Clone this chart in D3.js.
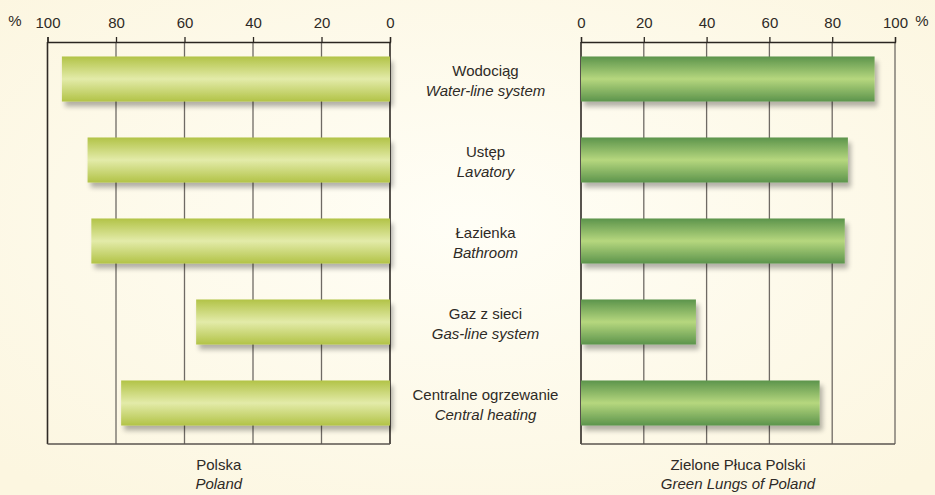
<!DOCTYPE html>
<html><head><meta charset="utf-8">
<script src="https://cdn.jsdelivr.net/npm/d3@7"></script>
<style>body{margin:0;background:#fdf8e6;}svg{display:block;font-family:"Liberation Sans",Arial,sans-serif;}</style>
</head><body>
<svg id="c" width="935" height="495"></svg>
<script>
const categoriesPl = ["Wodociąg","Ustęp","Łazienka","Gaz z sieci","Centralne ogrzewanie"];
const categoriesEn = ["Water-line system","Lavatory","Bathroom","Gas-line system","Central heating"];
const polandValues = [95.8, 88.3, 87.2, 56.6, 78.5];
const greenLungsValues = [93.5, 85.0, 84.0, 36.6, 76.0];
const tickValues = [0, 20, 40, 60, 80, 100];
const panelTitles = [["Polska","Poland"],["Zielone Płuca Polski","Green Lungs of Poland"]];

const FS = 15;
const TXT = "#2e2a26";
const svg = d3.select("#c");
const defs = svg.append("defs");

const bg = defs.append("radialGradient").attr("id","bg").attr("cx","50%").attr("cy","45%").attr("r","70%");
bg.append("stop").attr("offset","0%").attr("stop-color","#fffef6");
bg.append("stop").attr("offset","100%").attr("stop-color","#fcf6e0");
svg.append("rect").attr("width",935).attr("height",495).attr("fill","url(#bg)");

function grad(id, edge, mid){
  const g = defs.append("linearGradient").attr("id",id).attr("x1",0).attr("y1",0).attr("x2",0).attr("y2",1);
  g.append("stop").attr("offset","0%").attr("stop-color",edge);
  g.append("stop").attr("offset","50%").attr("stop-color",mid);
  g.append("stop").attr("offset","100%").attr("stop-color",edge);
}
grad("gl","#b2c347","#e3eba9");
grad("gr","#5c944c","#b6d77e");

const f = defs.append("filter").attr("id","sh").attr("x","-10%").attr("y","-20%").attr("width","130%").attr("height","160%");
f.append("feGaussianBlur").attr("in","SourceAlpha").attr("stdDeviation",2.5).attr("result","b");
f.append("feOffset").attr("in","b").attr("dx",3).attr("dy",5).attr("result","o");
f.append("feComponentTransfer").attr("in","o").attr("result","o2").append("feFuncA").attr("type","linear").attr("slope",0.3);
const m = f.append("feMerge");
m.append("feMergeNode").attr("in","o2");
m.append("feMergeNode").attr("in","SourceGraphic");

const plotTop = 42, plotBottom = 444;
const y = d3.scaleBand().domain(categoriesPl).range([38.5, 443.5]).paddingInner(0.444).paddingOuter(0.222);
const xL = d3.scaleLinear().domain([0,100]).range([390, 47.5]);
const xR = d3.scaleLinear().domain([0,100]).range([581, 895]);

function panel(x, values, fill, title, pctX, isRight){
  const g = svg.append("g");
  g.selectAll("line.grid").data(tickValues).join("line")
    .attr("x1",d=>x(d)).attr("x2",d=>x(d)).attr("y1",plotTop).attr("y2",plotBottom)
    .attr("stroke",d=> (d===0 || (d===100 && !isRight)) ? "#2f2a25" : "#6f6a64")
    .attr("stroke-width",d=> (d===0 || (d===100 && !isRight)) ? 1.6 : 1.3);
  const ax = d3.axisTop(x).tickValues(tickValues).tickSize(5).tickPadding(9);
  const a = g.append("g").attr("transform",`translate(0,${plotTop})`).call(ax);
  a.attr("font-size",FS).attr("font-family","Liberation Sans, Arial, sans-serif");
  a.select(".domain").attr("stroke","#2a2520").attr("stroke-width",1.3);
  a.selectAll(".tick line").attr("stroke","#2a2520").attr("stroke-width",1.3);
  a.selectAll(".tick text").attr("fill",TXT);
  g.append("line").attr("x1",x(0)).attr("x2",x(100)).attr("y1",plotBottom).attr("y2",plotBottom).attr("stroke","#5a554f").attr("stroke-width",1.5);
  g.selectAll("rect.bar").data(values).join("rect")
    .attr("x",d=>Math.min(x(0),x(d))).attr("width",d=>Math.abs(x(d)-x(0)))
    .attr("y",(d,i)=>y(categoriesPl[i])).attr("height",y.bandwidth())
    .attr("fill",`url(#${fill})`).attr("filter","url(#sh)");
  svg.append("text").attr("x",pctX).attr("y",26).attr("text-anchor","middle").attr("font-size",FS).attr("fill",TXT).text("%");
  const cx = (x(0)+x(100))/2;
  svg.append("text").attr("x",cx).attr("y",470).attr("text-anchor","middle").attr("font-size",FS).attr("fill",TXT).text(title[0]);
  svg.append("text").attr("x",cx).attr("y",489).attr("text-anchor","middle").attr("font-size",FS).attr("font-style","italic").attr("fill",TXT).text(title[1]);
}
panel(xL, polandValues, "gl", panelTitles[0], 15, false);
panel(xR, greenLungsValues, "gr", panelTitles[1], 922, true);

const lab = svg.append("g");
categoriesPl.forEach((c,i)=>{
  const cy = y(c) + y.bandwidth()/2;
  lab.append("text").attr("x",485.5).attr("y",cy-3).attr("text-anchor","middle").attr("font-size",FS).attr("fill",TXT).text(c);
  lab.append("text").attr("x",485.5).attr("y",cy+17).attr("text-anchor","middle").attr("font-size",FS).attr("font-style","italic").attr("fill",TXT).text(categoriesEn[i]);
});
</script>
</body></html>
